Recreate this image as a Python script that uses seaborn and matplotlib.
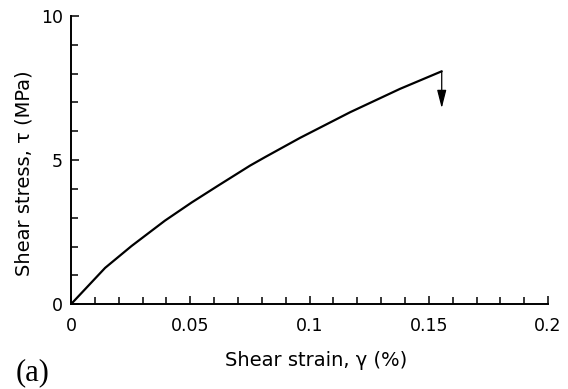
import numpy as np
import pandas as pd
import matplotlib.pyplot as plt
import seaborn as sns
from matplotlib.ticker import MultipleLocator

# Data (shear strain in %, shear stress in MPa)
strain = [0, 0.0059, 0.0143, 0.0254, 0.0394, 0.0506, 0.0618, 0.0751,
          0.0813, 0.0960, 0.1170, 0.1379, 0.1554]
stress = [0, 0.52, 1.26, 2.02, 2.90, 3.53, 4.12, 4.81,
          5.10, 5.77, 6.66, 7.47, 8.08]
arrow_end = 6.8
x_ticks = [0, 0.05, 0.1, 0.15, 0.2]
x_tick_labels = ['0', '0.05', '0.1', '0.15', '0.2']
y_ticks = [0, 5, 10]

curve = pd.DataFrame({'strain': strain, 'stress': stress})

sns.set_style('ticks')
plt.rcParams['font.family'] = ['DejaVu Sans']

fig = plt.figure(figsize=(5.68, 3.89), dpi=100)
ax = fig.add_axes([0.125, 0.218, 0.84, 0.741])

sns.lineplot(data=curve, x='strain', y='stress', color='black',
             linewidth=1.6, ax=ax)
ax.annotate('', xy=(strain[-1], arrow_end), xytext=(strain[-1], stress[-1]),
            arrowprops=dict(arrowstyle='-|>,head_length=1.1,head_width=0.28',
                            color='black', lw=0.9, mutation_scale=10,
                            shrinkA=0, shrinkB=0))

ax.set_xlim(0, 0.2)
ax.set_ylim(0, 10)
ax.set_xticks(x_ticks)
ax.set_xticklabels(x_tick_labels)
ax.set_yticks(y_ticks)
ax.xaxis.set_minor_locator(MultipleLocator(0.01))
ax.yaxis.set_minor_locator(MultipleLocator(1))
ax.tick_params(which='both', direction='in', width=1.1, color='black',
               labelsize=12.5, labelcolor='black')
ax.tick_params(which='major', length=6)
ax.tick_params(which='minor', length=5)
ax.tick_params(axis='x', which='both', pad=9)
ax.tick_params(axis='y', which='both', pad=6)
sns.despine(ax=ax)
for side in ['left', 'bottom']:
    ax.spines[side].set_linewidth(1.4)
    ax.spines[side].set_color('black')

ax.set_xlabel('Shear strain, γ (%)', fontsize=14, va='center', color='black')
ax.set_ylabel('Shear stress, τ (MPa)', fontsize=14, va='center', color='black')
ax.xaxis.set_label_coords(0.514, -0.194)
ax.yaxis.set_label_coords(-0.099, 0.455)
fig.text(0.028, 0.005, '(a)', fontsize=22, family='Liberation Serif',
         va='bottom', color='black')

plt.savefig('out.png', dpi=100)
